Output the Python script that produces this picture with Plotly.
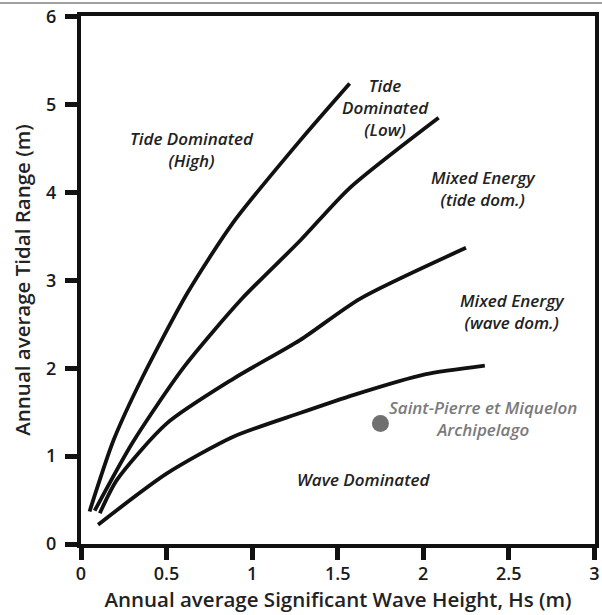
import plotly.graph_objects as go

# Boundary curves (Hs in m, tidal range in m)
tide_high_x = [0.05, 0.19, 0.36, 0.62, 0.89, 1.28, 1.57]
tide_high_y = [0.37, 1.18, 1.90, 2.85, 3.66, 4.59, 5.24]

tide_low_x = [0.08, 0.30, 0.60, 0.94, 1.28, 1.57, 2.09]
tide_low_y = [0.38, 1.15, 2.01, 2.79, 3.45, 4.05, 4.85]

mixed_x = [0.11, 0.21, 0.50, 0.89, 1.28, 1.63, 2.25]
mixed_y = [0.35, 0.73, 1.37, 1.88, 2.32, 2.79, 3.37]

wave_x = [0.10, 0.50, 0.89, 1.28, 1.60, 2.01, 2.36]
wave_y = [0.22, 0.80, 1.22, 1.49, 1.70, 1.93, 2.03]

site_x = [1.75]
site_y = [1.37]

x_ticks = [0, 0.5, 1, 1.5, 2, 2.5, 3]
x_tick_labels = ["0", "0.5", "1", "1.5", "2", "2.5", "3"]
y_ticks = [0, 1, 2, 3, 4, 5, 6]

FONT = "Open Sans"

fig = go.Figure()
for xs, ys in [(tide_high_x, tide_high_y), (tide_low_x, tide_low_y),
               (mixed_x, mixed_y), (wave_x, wave_y)]:
    fig.add_trace(go.Scatter(x=xs, y=ys, mode="lines",
                             line=dict(color="#111111", width=3.8, shape="spline", smoothing=0.7),
                             showlegend=False, hoverinfo="skip"))

fig.add_trace(go.Scatter(x=site_x, y=site_y, mode="markers",
                         marker=dict(color="#707070", size=17),
                         showlegend=False))

labels = [
    (0.65, 4.49, "Tide Dominated<br>(High)", "#222222"),
    (1.78, 4.97, "Tide<br>Dominated<br>(Low)", "#222222"),
    (2.35, 4.05, "Mixed Energy<br>(tide dom.)", "#222222"),
    (2.52, 2.65, "Mixed Energy<br>(wave dom.)", "#222222"),
    (1.65, 0.73, "Wave Dominated", "#222222"),
    (2.35, 1.43, "Saint-Pierre et Miquelon<br>Archipelago", "#7a7a7a"),
]
for x, y, t, c in labels:
    fig.add_annotation(x=x, y=y, text="<i>" + t + "</i>", showarrow=False,
                       font=dict(family=FONT, size=17, color=c, weight=600),
                       xanchor="center", yanchor="middle")

fig.add_shape(type="line", xref="paper", yref="paper", x0=-0.2, x1=1.05,
              y0=1.0246, y1=1.0246, line=dict(color="#a0a0a0", width=2))

axis_common = dict(showline=True, linewidth=4, linecolor="#111111", mirror=True,
                   ticks="outside", ticklen=12, tickwidth=5, tickcolor="#111111",
                   showgrid=False, zeroline=False, automargin=False,
                   tickfont=dict(family=FONT, size=18, color="#1a1a1a", weight=600))

fig.update_xaxes(range=[0, 3.004], tickvals=x_ticks, ticktext=x_tick_labels,
                 ticklabelstandoff=-2,
                 title=dict(text="Annual average Significant Wave Height, Hs (m)",
                            font=dict(family=FONT, size=20.5, color="#222222", weight=600),
                            standoff=4),
                 **axis_common)
fig.update_yaxes(range=[0, 6.008], tickvals=y_ticks,
                 ticklabelstandoff=5,
                 title=dict(text="Annual average Tidal Range (m)",
                            font=dict(family=FONT, size=20.5, color="#222222", weight=600),
                            standoff=11),
                 **axis_common)

fig.update_layout(width=602, height=615,
                  margin=dict(l=81, r=7, t=16, b=71),
                  plot_bgcolor="white", paper_bgcolor="white")

fig.write_html("out.html", config={"displayModeBar": False},
               post_script="document.body.style.margin='0';document.body.style.overflow='hidden';")
